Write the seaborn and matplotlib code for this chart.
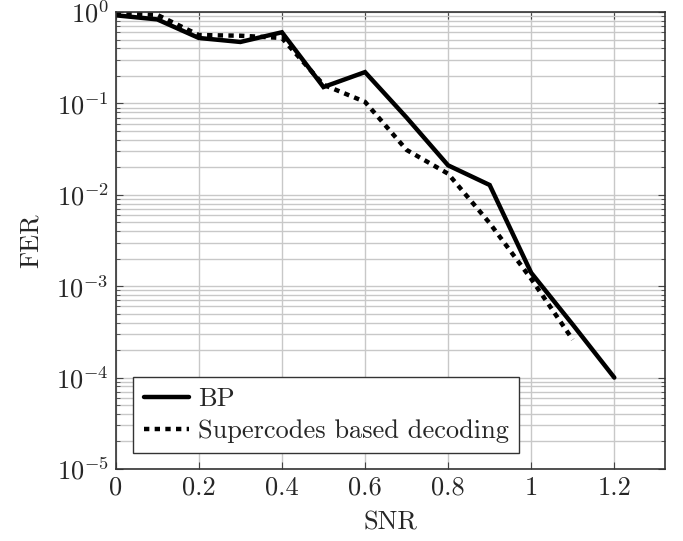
import numpy as np
import pandas as pd
import seaborn as sns
import matplotlib
matplotlib.use("Agg")
import matplotlib.pyplot as plt
from matplotlib.ticker import LogLocator, NullFormatter

# data
snr_bp = [0.0, 0.1, 0.2, 0.3, 0.4, 0.5, 0.6, 0.7, 0.8, 0.9, 1.0, 1.1, 1.2]
fer_bp = [0.92, 0.83, 0.52, 0.47, 0.60, 0.151, 0.22, 0.07, 0.021, 0.0128, 0.0014, 0.00038, 0.0001]
snr_sc = [0.0, 0.1, 0.2, 0.3, 0.4, 0.5, 0.6, 0.7, 0.8, 0.9, 1.0, 1.1]
fer_sc = [0.96, 0.93, 0.56, 0.55, 0.52, 0.16, 0.104, 0.031, 0.017, 0.0049, 0.0012, 0.00026]
labels = ["BP", "Supercodes based decoding"]

FS = 19

sns.set_style("ticks")
plt.rcParams["font.family"] = ["cmr10", "DejaVu Serif"]
plt.rcParams["mathtext.fontset"] = "cm"
plt.rcParams["axes.formatter.use_mathtext"] = True
plt.rcParams["font.size"] = FS

df_bp = pd.DataFrame({"snr": snr_bp, "fer": fer_bp})
df_sc = pd.DataFrame({"snr": snr_sc, "fer": fer_sc})

fig = plt.figure(figsize=(6.83, 5.41), dpi=100)
ax = fig.add_axes([115.7 / 683, 72 / 541, 549.3 / 683, 457 / 541])

sns.lineplot(data=df_bp, x="snr", y="fer", ax=ax, color="black", linewidth=3.2,
             label=labels[0], solid_joinstyle="miter")
sns.lineplot(data=df_sc, x="snr", y="fer", ax=ax, color="black", linewidth=3.2,
             label=labels[1], dashes=False)
ax.lines[1].set_dashes([1.2, 1.2])

ax.set_yscale("log")
ax.set_xlim(0, 1.322)
ax.set_ylim(1e-5, 1)
ax.set_xticks([0, 0.2, 0.4, 0.6, 0.8, 1.0, 1.2])
ax.set_xticklabels(["0", "0.2", "0.4", "0.6", "0.8", "1", "1.2"])
ax.yaxis.set_major_locator(LogLocator(base=10, numticks=10))
ax.yaxis.set_minor_locator(LogLocator(base=10, subs=np.arange(2, 10), numticks=20))
ax.yaxis.set_minor_formatter(NullFormatter())

ax.grid(which="major", color="#c8c8c8", linewidth=1.0)
ax.grid(which="minor", axis="y", color="#c8c8c8", linewidth=1.0)
ax.set_axisbelow(True)
ax.tick_params(which="both", direction="in", top=True, right=True, color="#444444")
ax.tick_params(which="major", length=5, labelsize=FS, pad=5)
ax.tick_params(which="minor", length=3)
for s in ax.spines.values():
    s.set_linewidth(1.2)
    s.set_color("#333333")

ax.set_xlabel("SNR", fontsize=FS, labelpad=8)
ax.set_ylabel("FER", fontsize=FS, labelpad=10)

leg = ax.legend(loc="lower left", bbox_to_anchor=(0.032, 0.034), borderaxespad=0,
                fancybox=False, framealpha=1, edgecolor="#333333",
                handlelength=1.7, handletextpad=0.35, fontsize=FS, borderpad=0.4,
                labelspacing=0.3)
leg.get_frame().set_linewidth(1.0)

fig.savefig("out.png", dpi=100)
